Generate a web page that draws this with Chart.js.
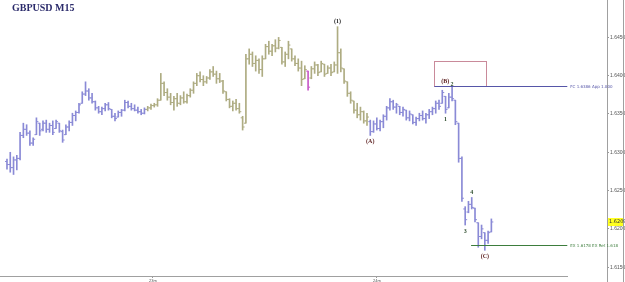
<!DOCTYPE html>
<html>
<head>
<meta charset="utf-8">
<script src="https://cdn.jsdelivr.net/npm/chart.js@4.4.1/dist/chart.umd.min.js"></script>
<style>
html, body { margin: 0; padding: 0; background: #fff; }
canvas { display: block; }
</style>
</head>
<body>
<canvas id="chart" width="625" height="282"></canvas>
<script>
// GBPUSD M15 bars
const highs = [1.6291,1.6300,1.6294,1.6296,1.6326,1.6338,1.6336,1.6328,1.6319,1.6345,
  1.6338,1.6341,1.6342,1.6338,1.6341,1.6342,1.6338,1.6329,1.6336,1.6341,
  1.6351,1.6354,1.6364,1.6379,1.6392,1.6383,1.6377,1.6367,1.6360,1.6359,
  1.6364,1.6365,1.6356,1.6351,1.6354,1.6356,1.6368,1.6367,1.6364,1.6362,
  1.6359,1.6356,1.6358,1.6360,1.6363,1.6364,1.6370,1.6403,1.6392,1.6383,
  1.6377,1.6373,1.6377,1.6374,1.6379,1.6376,1.6383,1.6392,1.6403,1.6405,
  1.6400,1.6399,1.6408,1.6412,1.6406,1.6403,1.6394,1.6379,1.6370,1.6367,
  1.6369,1.6364,1.6347,1.6428,1.6435,1.6431,1.6426,1.6422,1.6426,1.6441,
  1.6445,1.6441,1.6447,1.6450,1.6437,1.6431,1.6445,1.6435,1.6426,1.6422,
  1.6419,1.6413,1.6406,1.6412,1.6418,1.6415,1.6419,1.6415,1.6413,1.6415,
  1.6418,1.6464,1.6435,1.6409,1.6392,1.6379,1.6367,1.6364,1.6359,1.6354,
  1.6351,1.6342,1.6341,1.6345,1.6342,1.6349,1.6360,1.6370,1.6368,1.6364,
  1.6360,1.6359,1.6355,1.6354,1.6349,1.6346,1.6351,1.6354,1.6351,1.6356,
  1.6359,1.6367,1.6368,1.6381,1.6373,1.6377,1.6386,1.6368,1.6338,1.6294,
  1.6229,1.6236,1.6241,1.6227,1.6208,1.6205,1.6195,1.6197,1.6213];
const lows = [1.6278,1.6274,1.6271,1.6277,1.6290,1.6319,1.6322,1.6309,1.6309,1.6323,
  1.6322,1.6328,1.6326,1.6326,1.6323,1.6331,1.6326,1.6313,1.6323,1.6328,
  1.6335,1.6341,1.6351,1.6364,1.6374,1.6368,1.6364,1.6355,1.6351,1.6349,
  1.6354,1.6355,1.6345,1.6341,1.6346,1.6347,1.6354,1.6358,1.6355,1.6354,
  1.6351,1.6349,1.6350,1.6354,1.6356,1.6359,1.6360,1.6368,1.6374,1.6368,
  1.6362,1.6355,1.6360,1.6362,1.6364,1.6364,1.6372,1.6377,1.6387,1.6392,
  1.6387,1.6390,1.6395,1.6399,1.6390,1.6391,1.6377,1.6367,1.6358,1.6354,
  1.6355,1.6351,1.6329,1.6338,1.6415,1.6412,1.6406,1.6403,1.6399,1.6422,
  1.6428,1.6426,1.6431,1.6435,1.6415,1.6412,1.6422,1.6419,1.6413,1.6406,
  1.6387,1.6396,1.6381,1.6396,1.6403,1.6400,1.6405,1.6399,1.6403,1.6400,
  1.6405,1.6403,1.6405,1.6390,1.6373,1.6364,1.6351,1.6345,1.6342,1.6338,
  1.6335,1.6322,1.6326,1.6329,1.6328,1.6332,1.6342,1.6355,1.6356,1.6351,
  1.6349,1.6347,1.6342,1.6341,1.6337,1.6335,1.6341,1.6342,1.6338,1.6344,
  1.6349,1.6351,1.6356,1.6364,1.6351,1.6358,1.6367,1.6336,1.6287,1.6236,
  1.6205,1.6221,1.6226,1.6209,1.6176,1.6187,1.6172,1.6181,1.6196];
const opens = [1.6288,1.6284,1.6280,1.6290,1.6292,1.6322,1.6330,1.6325,1.6312,1.6323,
  1.6338,1.6330,1.6338,1.6330,1.6335,1.6331,1.6338,1.6327,1.6323,1.6333,
  1.6339,1.6348,1.6352,1.6364,1.6376,1.6380,1.6371,1.6366,1.6358,1.6353,
  1.6357,1.6362,1.6356,1.6347,1.6346,1.6352,1.6355,1.6365,1.6360,1.6357,
  1.6355,1.6353,1.6351,1.6356,1.6358,1.6361,1.6362,1.6368,1.6390,1.6378,
  1.6372,1.6365,1.6370,1.6364,1.6371,1.6366,1.6374,1.6381,1.6390,1.6400,
  1.6395,1.6392,1.6397,1.6405,1.6402,1.6396,1.6393,1.6379,1.6369,1.6360,
  1.6364,1.6357,1.6345,1.6338,1.6422,1.6428,1.6416,1.6420,1.6408,1.6422,
  1.6438,1.6432,1.6439,1.6436,1.6437,1.6418,1.6428,1.6435,1.6422,1.6416,
  1.6410,1.6396,1.6406,1.6397,1.6409,1.6414,1.6405,1.6415,1.6403,1.6410,
  1.6405,1.6414,1.6430,1.6409,1.6392,1.6377,1.6367,1.6355,1.6349,1.6353,
  1.6341,1.6340,1.6327,1.6337,1.6331,1.6340,1.6347,1.6358,1.6366,1.6359,
  1.6360,1.6352,1.6355,1.6345,1.6349,1.6339,1.6344,1.6348,1.6344,1.6349,
  1.6353,1.6357,1.6364,1.6364,1.6373,1.6358,1.6372,1.6368,1.6338,1.6292,
  1.6226,1.6222,1.6232,1.6227,1.6208,1.6190,1.6195,1.6185,1.6196];
const closes = [1.6284,1.6280,1.6290,1.6292,1.6322,1.6330,1.6325,1.6312,1.6317,1.6340,
  1.6328,1.6338,1.6330,1.6335,1.6326,1.6340,1.6328,1.6316,1.6333,1.6339,
  1.6348,1.6352,1.6362,1.6376,1.6380,1.6371,1.6366,1.6358,1.6353,1.6357,
  1.6362,1.6357,1.6347,1.6344,1.6352,1.6355,1.6365,1.6360,1.6357,1.6355,
  1.6353,1.6351,1.6356,1.6358,1.6361,1.6362,1.6368,1.6390,1.6378,1.6372,
  1.6365,1.6370,1.6364,1.6371,1.6366,1.6374,1.6381,1.6390,1.6400,1.6395,
  1.6392,1.6397,1.6405,1.6402,1.6396,1.6393,1.6380,1.6369,1.6360,1.6364,
  1.6357,1.6353,1.6333,1.6422,1.6428,1.6416,1.6420,1.6408,1.6422,1.6438,
  1.6432,1.6439,1.6436,1.6446,1.6418,1.6428,1.6440,1.6422,1.6416,1.6410,
  1.6395,1.6408,1.6385,1.6409,1.6414,1.6404,1.6416,1.6402,1.6410,1.6404,
  1.6414,1.6430,1.6410,1.6393,1.6377,1.6368,1.6355,1.6349,1.6353,1.6341,
  1.6346,1.6327,1.6337,1.6331,1.6340,1.6347,1.6358,1.6366,1.6359,1.6362,
  1.6352,1.6356,1.6345,1.6350,1.6339,1.6344,1.6348,1.6344,1.6349,1.6353,
  1.6357,1.6364,1.6360,1.6378,1.6356,1.6372,1.6370,1.6340,1.6292,1.6240,
  1.6212,1.6232,1.6228,1.6212,1.6190,1.6200,1.6185,1.6195,1.6209];

const priceTicks = [1.6150, 1.6200, 1.6250, 1.6300, 1.6350, 1.6400, 1.6450];
const dayTicks = [44.6, 113];
const dayLabels = ["23m", "24m"];

// wave marks: bar index, text, above or below the bar
const waveBars = [101, 111, 133, 146, 134, 136, 140, 142];
const waveTexts = ["(1)", "(A)", "(B)", "(C)", "1", "2", "3", "4"];
const waveSide = ["up", "down", "up", "down", "down", "up", "down", "up"];

const fcLevel = 1.6386, fcText = "FC 1.6386 App 1.000";
const exLevel = 1.6179, exText = "EX 1.6178 EX Ret 1.618";
const boxB = { from: 130.6, to: 146.4, top: 1.6419, bottom: 1.6386 };

const BLUE = "#8a8ad6", OLIVE = "#aeac82", MAGENTA = "#c85ac8";
const barColors = highs.map((h, i) => i === 92 ? MAGENTA : (i >= 43 && i <= 110 ? OLIVE : BLUE));

const overlay = {
  id: "overlay",
  afterDraw(chart) {
    const { ctx, scales: { x, y } } = chart;
    ctx.save();
    // frame
    ctx.strokeStyle = "#a0a0a0";
    ctx.lineWidth = 1;
    ctx.beginPath();
    ctx.moveTo(607.5, 0); ctx.lineTo(607.5, 282);
    ctx.moveTo(623.5, 0); ctx.lineTo(623.5, 282);
    ctx.moveTo(0, 276.5); ctx.lineTo(568, 276.5);
    ctx.stroke();

    // title
    ctx.fillStyle = "#2b2b6b";
    ctx.font = "bold 10px 'Liberation Serif'";
    ctx.textBaseline = "top";
    ctx.fillText("GBPUSD M15", 12, 3);

    // (B) box
    ctx.strokeStyle = "#c98a9a";
    const bx0 = x.getPixelForValue(boxB.from), bx1 = x.getPixelForValue(boxB.to);
    const by0 = y.getPixelForValue(boxB.top), by1 = y.getPixelForValue(boxB.bottom);
    ctx.strokeRect(Math.round(bx0) + 0.5, Math.round(by0) + 0.5, Math.round(bx1 - bx0), Math.round(by1 - by0));

    // levels
    const endX = x.getPixelForValue(171.2);
    const lvl = (v, from, color, text) => {
      const py = Math.round(y.getPixelForValue(v)) + 0.5;
      ctx.strokeStyle = color;
      ctx.beginPath();
      ctx.moveTo(x.getPixelForValue(from), py); ctx.lineTo(endX, py);
      ctx.stroke();
      ctx.fillStyle = color;
      ctx.font = "4px 'DejaVu Sans'";
      ctx.textBaseline = "middle";
      ctx.fillText(text, endX + 3, py);
    };
    lvl(fcLevel, 130.6, "#5656a8", fcText);
    lvl(exLevel, 141.8, "#3d7d3d", exText);

    // wave labels
    ctx.font = "bold 6px 'Liberation Serif'";
    ctx.textAlign = "center";
    waveBars.forEach((b, k) => {
      const t = waveTexts[k];
      const up = waveSide[k] === "up";
      const px = x.getPixelForValue(b);
      const py = up ? y.getPixelForValue(highs[b]) - 5 : y.getPixelForValue(lows[b]) + 6;
      ctx.fillStyle = t === "(1)" ? "#222" : (t.startsWith("(") ? "#5a1c1c" : "#2f4f2f");
      ctx.textBaseline = "middle";
      ctx.fillText(t, t === "(B)" ? px + 3 : px, t === "2" ? py + 3 : (t === "(B)" ? py - 4 : py));
    });

    // current price tag
    const last = closes[closes.length - 1];
    const ly = y.getPixelForValue(last);
    ctx.fillStyle = "#ffff22";
    ctx.fillRect(608, Math.round(ly) - 4, 15, 8);
    ctx.fillStyle = "#333";
    ctx.font = "5px 'DejaVu Sans'";
    ctx.textAlign = "left";
    ctx.textBaseline = "middle";
    ctx.fillText(last.toFixed(4), 609, ly);
    ctx.restore();
  }
};

new Chart(document.getElementById("chart"), {
  data: {
    datasets: [
      {
        type: "bar",
        data: highs.map((h, i) => ({ x: i, y: [lows[i], h] })),
        backgroundColor: barColors,
        barThickness: 1,
        borderWidth: 0
      },
      {
        type: "scatter",
        data: opens.map((v, i) => ({ x: i - 0.3, y: v })),
        pointStyle: "line",
        radius: 1,
        borderWidth: 1,
        borderColor: barColors,
        backgroundColor: barColors
      },
      {
        type: "scatter",
        data: closes.map((v, i) => ({ x: i + 0.3, y: v })),
        pointStyle: "line",
        radius: 1,
        borderWidth: 1,
        borderColor: barColors,
        backgroundColor: barColors
      }
    ]
  },
  options: {
    responsive: false,
    animation: false,
    devicePixelRatio: 1,
    layout: { padding: 0 },
    plugins: { legend: { display: false }, tooltip: { enabled: false } },
    scales: {
      x: {
        type: "linear",
        offset: false,
        bounds: "ticks",
        min: -0.606,
        max: 183.33,
        afterFit: s => { s.height = 6; },
        afterBuildTicks: s => { s.ticks = dayTicks.map(v => ({ value: v })); },
        ticks: { callback: (v, i) => dayLabels[i], font: { size: 4 }, color: "#555", padding: 0, maxRotation: 0, autoSkip: false },
        grid: { drawOnChartArea: false, drawTicks: true, tickLength: 2, color: "#999", offset: false },
        border: { display: false }
      },
      y: {
        position: "right",
        min: 1.613846,
        max: 1.649231,
        afterFit: s => { s.width = 18; },
        afterBuildTicks: s => { s.ticks = priceTicks.map(v => ({ value: v })); },
        ticks: { callback: v => v.toFixed(4), font: { size: 5 }, color: "#555", padding: 1 },
        grid: { drawOnChartArea: false, drawTicks: true, tickLength: 2, color: "#999" },
        border: { display: false }
      }
    }
  },
  plugins: [overlay]
});
</script>
</body>
</html>
